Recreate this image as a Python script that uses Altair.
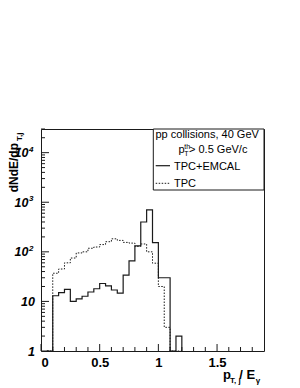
import altair as alt
import pandas as pd

# ---- data (bin lower edges, bin width 0.05) ----
bin_lo = [0.05, 0.10, 0.15, 0.20, 0.25, 0.30, 0.35, 0.40, 0.45, 0.50, 0.55, 0.60,
          0.65, 0.70, 0.75, 0.80, 0.85, 0.90, 0.95, 1.00, 1.05, 1.10, 1.15, 1.20]
tpc_emcal = [0, 13, 15, 17.5, 10, 11.2, 12.7, 15.5, 18, 23, 20.5, 17,
             14.7, 34, 66, 132, 400, 700, 154, 30, 30, 0, 2, 0]
tpc = [0, 37, 45, 60, 75, 95, 100, 118, 125, 140, 160, 183,
       170, 155, 150, 129, 144, 100, 59, 20, 3, 0, 0, 0]

x_major = [0, 0.5, 1, 1.5]
x_minor = [0.1, 0.2, 0.3, 0.4, 0.6, 0.7, 0.8, 0.9, 1.1, 1.2, 1.3, 1.4, 1.6, 1.7, 1.8]
y_major = [1, 10, 100, 1000, 10000]
y_minor = [2, 3, 4, 5, 6, 7, 8, 9, 20, 30, 40, 50, 60, 70, 80, 90,
           200, 300, 400, 500, 600, 700, 800, 900,
           2000, 3000, 4000, 5000, 6000, 7000, 8000, 9000, 20000, 30000]
y_low_labels = ["1", "10"]
y_low_values = [1, 10]
y_pow_values = [100, 1000, 10000]
y_pow_exps = ["2", "3", "4"]

W, H = 223, 222
FONT = "Liberation Sans"
INK = "#1a1a1a"


def hist_df(counts):
    # empty bins sit on the axis floor of the log scale
    return pd.DataFrame({"x": bin_lo, "y": [c if c > 0 else 1 for c in counts]})


xs = alt.Scale(domain=[0, 1.9], nice=False, zero=False)
ys = alt.Scale(type="log", domain=[1, 30000], nice=False)

x_axis = alt.Axis(values=x_major, format="~g", ticks=False, domain=False, grid=False,
                  labelFont=FONT, labelFontWeight="bold", labelFontSize=13,
                  labelPadding=5, labelColor="black", title=None)

tpc_line = alt.Chart(hist_df(tpc)).mark_line(
    interpolate="step-after", color=INK, strokeWidth=1, strokeDash=[1.5, 1.5]
).encode(x=alt.X("x:Q", scale=xs, axis=x_axis), y=alt.Y("y:Q", scale=ys, axis=None))

emcal_line = alt.Chart(hist_df(tpc_emcal)).mark_line(
    interpolate="step-after", color=INK, strokeWidth=1.2
).encode(x=alt.X("x:Q", scale=xs), y=alt.Y("y:Q", scale=ys))

# ticks drawn inside the frame (ROOT style)
xmaj = alt.Chart(pd.DataFrame({"v": x_major})).mark_rule(color=INK, strokeWidth=1).encode(
    x=alt.X("v:Q", scale=xs), y=alt.value(H), y2=alt.value(H - 7))
xmin = alt.Chart(pd.DataFrame({"v": x_minor})).mark_rule(color=INK, strokeWidth=1).encode(
    x=alt.X("v:Q", scale=xs), y=alt.value(H), y2=alt.value(H - 4))
ymaj = alt.Chart(pd.DataFrame({"v": y_major})).mark_rule(color=INK, strokeWidth=1).encode(
    y=alt.Y("v:Q", scale=ys), x=alt.value(0), x2=alt.value(8))
ymin = alt.Chart(pd.DataFrame({"v": y_minor})).mark_rule(color=INK, strokeWidth=1).encode(
    y=alt.Y("v:Q", scale=ys), x=alt.value(0), x2=alt.value(4))

# y tick labels
ylab_low = alt.Chart(pd.DataFrame({"v": y_low_values, "t": y_low_labels})).mark_text(
    font=FONT, fontWeight="bold", fontStyle="italic", fontSize=12.5, align="right",
    baseline="alphabetic", dy=4.5, color="black"
).encode(y=alt.Y("v:Q", scale=ys), x=alt.value(-6), text="t:N")
ylab_base = alt.Chart(pd.DataFrame({"v": y_pow_values})).mark_text(
    font=FONT, fontWeight="bold", fontStyle="italic", fontSize=12.5, align="right",
    baseline="alphabetic", dy=4.5, color="black"
).encode(y=alt.Y("v:Q", scale=ys), x=alt.value(-12.5), text=alt.value("10"))
ylab_exp = alt.Chart(pd.DataFrame({"v": y_pow_values, "e": y_pow_exps})).mark_text(
    font=FONT, fontWeight="bold", fontStyle="italic", fontSize=8, align="left",
    baseline="alphabetic", dy=-1, color="black"
).encode(y=alt.Y("v:Q", scale=ys), x=alt.value(-12), text="e:N")

one = pd.DataFrame({"k": [0]})


def txt(s, x, y, size=11, weight="normal", align="left", angle=0):
    return alt.Chart(one).mark_text(
        font=FONT, fontSize=size, fontWeight=weight, align=align,
        baseline="alphabetic", angle=angle, color="black"
    ).encode(x=alt.value(x), y=alt.value(y), text=alt.value(s))


# legend box
box = alt.Chart(one).mark_rect(fill="white", stroke=INK, strokeWidth=1).encode(
    x=alt.value(112.3), x2=alt.value(W), y=alt.value(0), y2=alt.value(61))
leg_solid = alt.Chart(one).mark_rule(color=INK, strokeWidth=1.2).encode(
    x=alt.value(114.7), x2=alt.value(129), y=alt.value(36.7))
leg_dot = alt.Chart(one).mark_rule(color=INK, strokeWidth=1, strokeDash=[1.5, 1.5]).encode(
    x=alt.value(114.7), x2=alt.value(129), y=alt.value(54.3))

legend_texts = [
    txt("pp collisions, 40 GeV", 114.5, 8.5),
    txt("p", 137.5, 24),
    txt("th", 143.3, 19.5, size=7),
    txt("T", 143.3, 27, size=7),
    txt("> 0.5 GeV/c", 148, 24),
    txt("TPC+EMCAL", 133, 40.5),
    txt("TPC", 133, 57.5),
]

# axis titles
titles = [
    txt("dNdE/dp", -23.5, 14, size=12, weight="bold", align="right", angle=270),
    txt("T,j", -19.5, 12, size=8, weight="bold", align="left", angle=270),
    txt("p", 182, 250, size=13, weight="bold"),
    txt("T, j", 189, 254, size=8, weight="bold"),
    txt("/ E", 198.3, 250, size=13, weight="bold"),
    txt("γ", 214.8, 254, size=8, weight="bold"),
]

chart = alt.layer(
    tpc_line, emcal_line, xmin, xmaj, ymin, ymaj,
    ylab_low, ylab_base, ylab_exp,
    box, leg_solid, leg_dot, *legend_texts, *titles
).properties(
    width=W, height=H,
    autosize=alt.AutoSizeParams(type="none"),
    padding={"left": 33, "top": 121, "right": 20, "bottom": 36},
    background="white",
).configure_view(stroke=INK, strokeWidth=1)

chart.save("out.html", embed_options={"renderer": "svg", "actions": False})
